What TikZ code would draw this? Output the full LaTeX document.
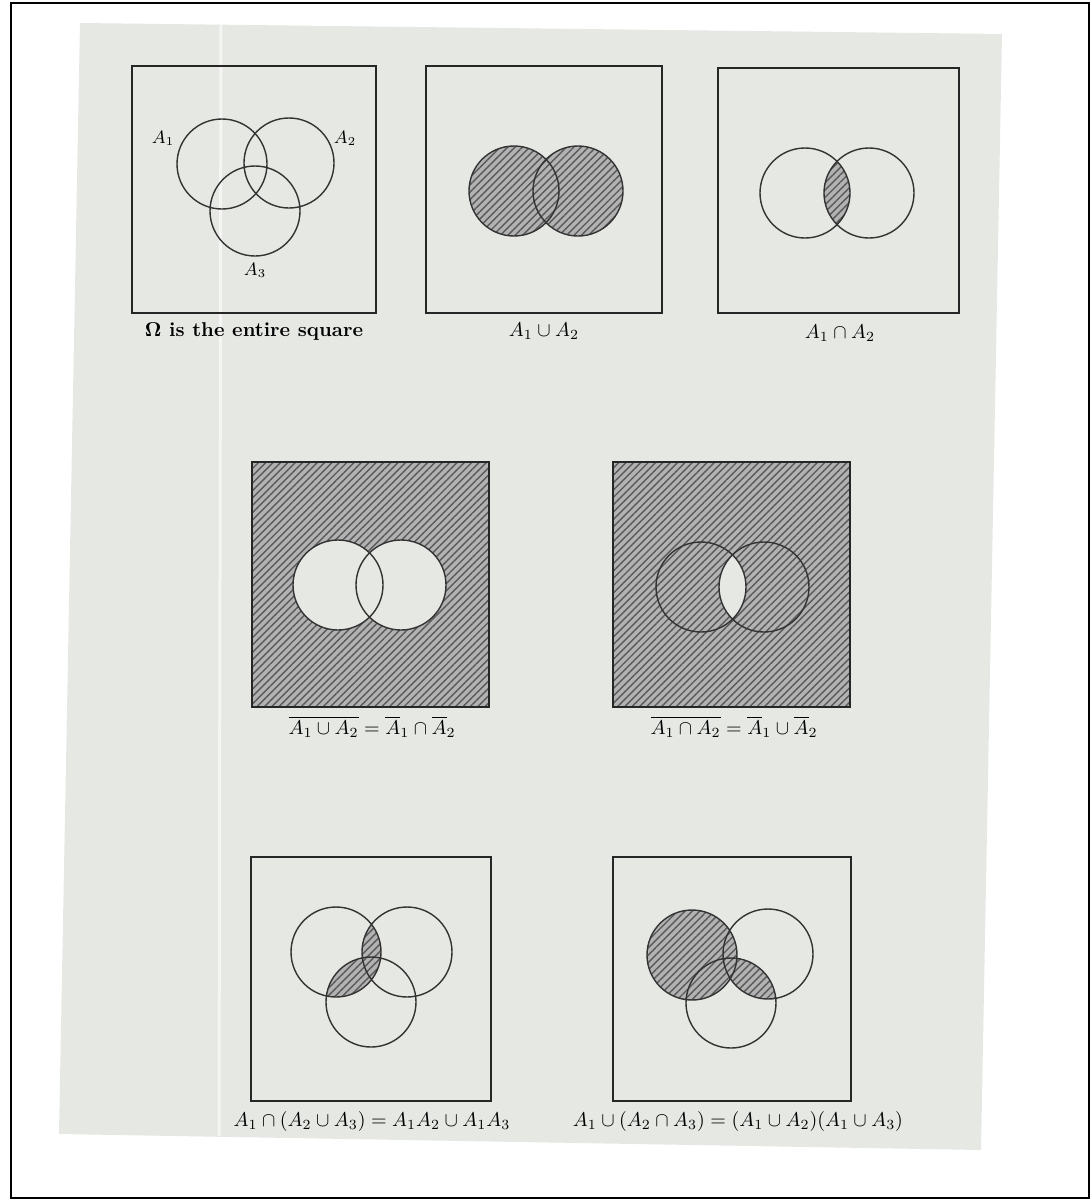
\documentclass[tikz,border=0pt]{standalone}
\usetikzlibrary{patterns.meta}
\definecolor{paper}{RGB}{230,232,228}

\begin{document}
\begin{tikzpicture}[
    x=0.5pt,y=-0.5pt,
    font=\normalsize,
    box/.style={draw=black!85,line width=1pt},
    set/.style={draw=black!80,line width=.7pt},
    hatched/.style={fill=black!30,postaction={pattern={Lines[angle=45,distance=2.6pt,line width=.7pt]},pattern color=black!65}},
    blank/.style={fill=paper},
    captext/.style={inner sep=1pt},
    setlabel/.style={inner sep=1pt,font=\small},
    ]
    \useasboundingbox (0,0) rectangle (1091,1199);
    \draw[line width=1pt] (11,3) rectangle (1089,1198);
    % the scanned page
    \fill[paper] (80,23) -- (1002,34) -- (981,1150) -- (59,1134) -- cycle;
    \draw[white!60!paper,line width=1.5pt] (221,24) -- (219,1136);

    % Omega
    \coordinate (a1) at (222,164);
    \coordinate (a2) at (289,163);
    \coordinate (a3) at (255,211);
    \draw[box] (132,66) rectangle (376,313);
    \draw[set] (a1) circle[radius=45] (a2) circle[radius=45] (a3) circle[radius=45];
    \node[setlabel] (la1) at (163,138) {$A_1$};
    \node[setlabel] (la2) at (345,138) {$A_2$};
    \node[setlabel] (la3) at (255,270) {$A_3$};
    \node[captext] (cap1) at (254,331) {\bfseries $\mathbf{\Omega}$ is the entire square};

    % union
    \coordinate (b1) at (514,191);
    \coordinate (b2) at (578,191);
    \fill[hatched] (b1) circle[radius=45] (b2) circle[radius=45];
    \draw[set] (b1) circle[radius=45] (b2) circle[radius=45];
    \draw[box] (426,66) rectangle (662,313);
    \node[captext] (cap2) at (544,331) {$A_1\cup A_2$};

    % intersection
    \coordinate (c1) at (805,193);
    \coordinate (c2) at (869,193);
    \begin{scope}
        \clip (c1) circle[radius=45];
        \fill[hatched] (c2) circle[radius=45];
    \end{scope}
    \draw[set] (c1) circle[radius=45] (c2) circle[radius=45];
    \draw[box] (718,68) rectangle (959,313);
    \node[captext] (cap3) at (840,333) {$A_1\cap A_2$};

    % complement of union
    \coordinate (d1) at (338,585);
    \coordinate (d2) at (401,585);
    \fill[hatched] (252,462) rectangle (489,707);
    \fill[blank] (d1) circle[radius=45] (d2) circle[radius=45];
    \draw[set] (d1) circle[radius=45] (d2) circle[radius=45];
    \draw[box] (252,462) rectangle (489,707);
    \node[captext] (cap4) at (372,727)
        {$\overline{A_1\cup A_2}=\overline{A}_1\cap\overline{A}_2$};

    % complement of intersection
    \coordinate (e1) at (701,587);
    \coordinate (e2) at (764,587);
    \fill[hatched] (613,462) rectangle (850,707);
    \begin{scope}
        \clip (e1) circle[radius=45];
        \fill[blank] (e2) circle[radius=45];
    \end{scope}
    \draw[set] (e1) circle[radius=45] (e2) circle[radius=45];
    \draw[box] (613,462) rectangle (850,707);
    \node[captext] (cap5) at (734,727)
        {$\overline{A_1\cap A_2}=\overline{A}_1\cup\overline{A}_2$};

    % distributive laws
    \coordinate (f1) at (336,952);
    \coordinate (f2) at (407,952);
    \coordinate (f3) at (371,1002);
    \begin{scope}
        \clip (f1) circle[radius=45];
        \fill[hatched] (f2) circle[radius=45] (f3) circle[radius=45];
    \end{scope}
    \draw[set] (f1) circle[radius=45] (f2) circle[radius=45] (f3) circle[radius=45];
    \draw[box] (251,857) rectangle (491,1101);
    \node[captext] (cap6) at (372,1121) {$A_1\cap(A_2\cup A_3)=A_1A_2\cup A_1A_3$};

    \coordinate (g1) at (692,955);
    \coordinate (g2) at (768,954);
    \coordinate (g3) at (731,1003);
    \fill[hatched] (g1) circle[radius=45];
    \begin{scope}
        \clip (g2) circle[radius=45];
        \fill[hatched] (g3) circle[radius=45];
    \end{scope}
    \draw[set] (g1) circle[radius=45] (g2) circle[radius=45] (g3) circle[radius=45];
    \draw[box] (613,857) rectangle (851,1101);
    \node[captext] (cap7) at (738,1121) {$A_1\cup(A_2\cap A_3)=(A_1\cup A_2)(A_1\cup A_3)$};
\end{tikzpicture}
\end{document}
